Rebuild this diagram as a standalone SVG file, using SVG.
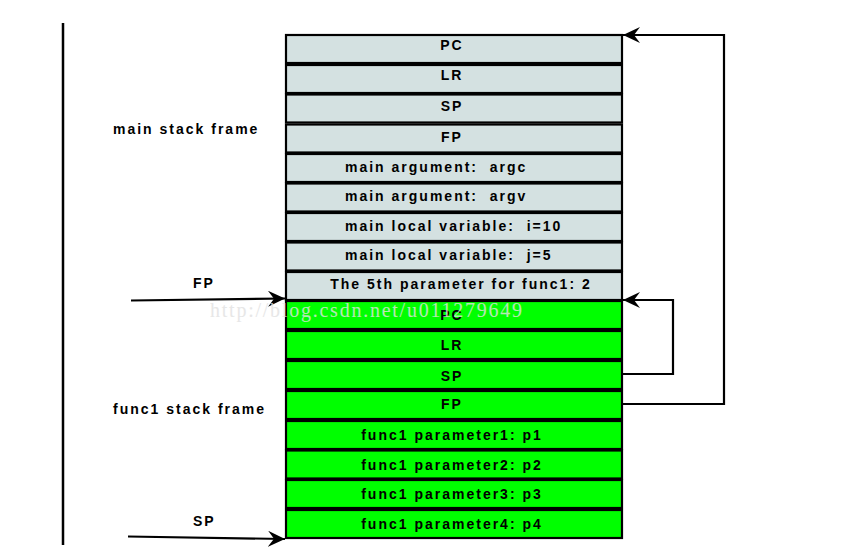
<svg xmlns="http://www.w3.org/2000/svg" width="843" height="555" viewBox="0 0 843 555">
<style>
.g rect{fill:#d4e1e1;stroke:#000;stroke-width:2.2}
.n rect{fill:#00ff00;stroke:#000;stroke-width:2.2}
text{font-family:"Liberation Sans",Arial,sans-serif;font-weight:bold;font-size:14px;letter-spacing:2px;fill:#000;white-space:pre}
.c{text-anchor:middle}
.conn{fill:none;stroke:#000;stroke-width:2.2}
.wm{font-family:"Liberation Serif",serif;font-weight:normal;font-size:20px;letter-spacing:0;fill:#e2e2e2;opacity:0.8}
</style>
<defs>
<marker id="ah" viewBox="0 0 17 16" refX="17" refY="8" markerWidth="17" markerHeight="16" markerUnits="userSpaceOnUse" orient="auto">
<path d="M0,0 L17,8 L0,16 L6,8 z" fill="#000"/>
</marker>
</defs>
<rect width="843" height="555" fill="#fff"/>
<line x1="63" y1="23" x2="63" y2="545" stroke="#000" stroke-width="2.5"/>
<text x="113" y="134">main stack frame</text>
<text x="113" y="414">func1 stack frame</text>
<text x="193" y="288">FP</text>
<text x="193" y="526">SP</text>

<g id="main-pc" class="g"><rect x="286" y="35" width="336" height="28"/><text class="c" x="452" y="50">PC</text></g>
<g id="main-lr" class="g"><rect x="286" y="65" width="336" height="28"/><text class="c" x="452" y="80">LR</text></g>
<g id="main-sp" class="g"><rect x="286" y="94.5" width="336" height="28"/><text class="c" x="452" y="111">SP</text></g>
<g id="main-fp" class="g"><rect x="286" y="124.5" width="336" height="28"/><text class="c" x="452" y="142">FP</text></g>
<g id="main-argc" class="g"><rect x="286" y="154" width="336" height="28"/><text x="345" y="172">main argument:  argc</text></g>
<g id="main-argv" class="g"><rect x="286" y="183.5" width="336" height="28"/><text x="345" y="201">main argument:  argv</text></g>
<g id="main-i" class="g"><rect x="286" y="213" width="336" height="28"/><text x="345" y="231">main local variable:  i=10</text></g>
<g id="main-j" class="g"><rect x="286" y="242.5" width="336" height="28"/><text x="345" y="260">main local variable:  j=5</text></g>
<g id="main-5th" class="g"><rect x="286" y="272" width="336" height="28"/><text class="c" x="461" y="289">The 5th parameter for func1: 2</text></g>

<g id="f-pc" class="n"><rect x="286" y="301" width="336" height="28"/><text class="c" x="452" y="320">PC</text></g>
<g id="f-lr" class="n"><rect x="286" y="331" width="336" height="28"/><text class="c" x="452" y="350">LR</text></g>
<g id="f-sp" class="n"><rect x="286" y="361" width="336" height="28"/><text class="c" x="452" y="381">SP</text></g>
<g id="f-fp" class="n"><rect x="286" y="391" width="336" height="28"/><text class="c" x="452" y="409">FP</text></g>
<g id="f-p1" class="n"><rect x="286" y="421" width="336" height="28"/><text class="c" x="452" y="440">func1 parameter1: p1</text></g>
<g id="f-p2" class="n"><rect x="286" y="450.5" width="336" height="28"/><text class="c" x="452" y="470">func1 parameter2: p2</text></g>
<g id="f-p3" class="n"><rect x="286" y="480" width="336" height="28"/><text class="c" x="452" y="499">func1 parameter3: p3</text></g>
<g id="f-p4" class="n"><rect x="286" y="510" width="336" height="28"/><text class="c" x="452" y="529">func1 parameter4: p4</text></g>

<g id="connectors">
<path class="conn" d="M131,300.5 L285,298.5" marker-end="url(#ah)"/>
<path class="conn" d="M128,536.5 L285,539" marker-end="url(#ah)"/>
<path class="conn" d="M622,374 L673,374 L673,300 L623,300" marker-end="url(#ah)"/>
<path class="conn" d="M622,404 L724,404 L724,35 L623,35" marker-end="url(#ah)"/>
</g>
<text class="wm" x="210" y="317" textLength="312">http://blog.csdn.net/u011279649</text>
</svg>
